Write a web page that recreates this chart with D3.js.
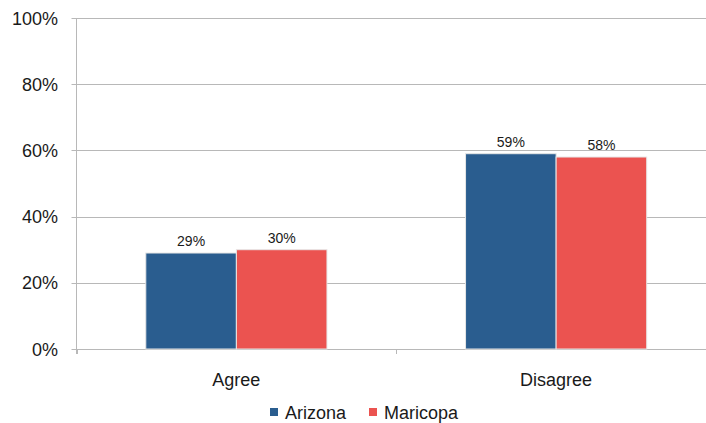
<!DOCTYPE html>
<html><head><meta charset="utf-8">
<script src="https://cdn.jsdelivr.net/npm/d3@7"></script>
<style>body{margin:0;background:#fff}svg{display:block}text{font-family:"Liberation Sans",Arial,sans-serif;fill:#1a1a1a}</style>
</head><body>
<script>
const categories = ["Agree", "Disagree"];
const seriesNames = ["Arizona", "Maricopa"];
const arizona = [29, 59];
const maricopa = [30, 58];
const yTicks = [0, 20, 40, 60, 80, 100];
const colors = ["#2a5d8f", "#eb5350"];

const W = 706, H = 423;
const m = {left: 76.5, right: -10, top: 18, bottom: 74};
const svg = d3.select("body").append("svg").attr("width", W).attr("height", H);
const x = d3.scaleBand().domain(categories).range([m.left, W - m.right]).paddingInner(0).paddingOuter(0);
const x1 = d3.scaleBand().domain(seriesNames).range([0, x.bandwidth()]).paddingInner(0).paddingOuter(0.765);
const y = d3.scaleLinear().domain([0, 100]).range([H - m.bottom, m.top]);

// gridlines
svg.append("g").selectAll("line").data(yTicks).join("line")
  .attr("x1", m.left - 5).attr("x2", W).attr("y1", d => Math.round(y(d)) + 0.5).attr("y2", d => Math.round(y(d)) + 0.5)
  .attr("stroke", "#b8b8b8").attr("stroke-width", 1);
// y axis line
svg.append("line").attr("x1", m.left).attr("x2", m.left).attr("y1", y(100)).attr("y2", y(0) + 5)
  .attr("stroke", "#b8b8b8");
// x ticks
const bounds = [m.left, x("Disagree")];
svg.append("g").selectAll("line").data(bounds).join("line")
  .attr("x1", d => Math.round(d) + 0.5).attr("x2", d => Math.round(d) + 0.5)
  .attr("y1", y(0)).attr("y2", y(0) + 5).attr("stroke", "#b8b8b8");

// y labels
svg.append("g").selectAll("text").data(yTicks).join("text")
  .attr("x", 58).attr("y", d => y(d) + 6.5).attr("text-anchor", "end")
  .attr("font-size", 18).text(d => d + "%");

const rows = categories.map((c, i) => ({cat: c, vals: [arizona[i], maricopa[i]]}));
const g = svg.append("g").selectAll("g").data(rows).join("g")
  .attr("transform", d => `translate(${x(d.cat)},0)`);
g.selectAll("rect").data(d => d.vals.map((v, j) => ({v, s: seriesNames[j], j}))).join("rect")
  .attr("x", d => x1(d.s)).attr("width", x1.bandwidth())
  .attr("y", d => y(d.v)).attr("height", d => y(0) - y(d.v))
  .attr("fill", d => colors[d.j]).attr("stroke", "#e6e6e6").attr("stroke-width", 1);
g.selectAll("text.lbl").data(d => d.vals.map((v, j) => ({v, s: seriesNames[j], j}))).join("text")
  .attr("class", "lbl").attr("x", d => x1(d.s) + x1.bandwidth() / 2).attr("y", d => y(d.v) - 7)
  .attr("text-anchor", "middle").attr("font-size", 14).text(d => d.v + "%");

// category labels
svg.append("g").selectAll("text").data(categories).join("text")
  .attr("x", d => x(d) + x.bandwidth() / 2).attr("y", 386).attr("text-anchor", "middle")
  .attr("font-size", 18).text(d => d);

// legend
const lx = [270, 369];
const lg = svg.append("g").selectAll("g").data(seriesNames).join("g")
  .attr("transform", (d, i) => `translate(${lx[i]},0)`);
lg.append("rect").attr("x", 0).attr("y", 408).attr("width", 8).attr("height", 8).attr("fill", (d, i) => colors[i]);
lg.append("text").attr("x", 15).attr("y", 419).attr("font-size", 18).text(d => d);
</script>
</body></html>
